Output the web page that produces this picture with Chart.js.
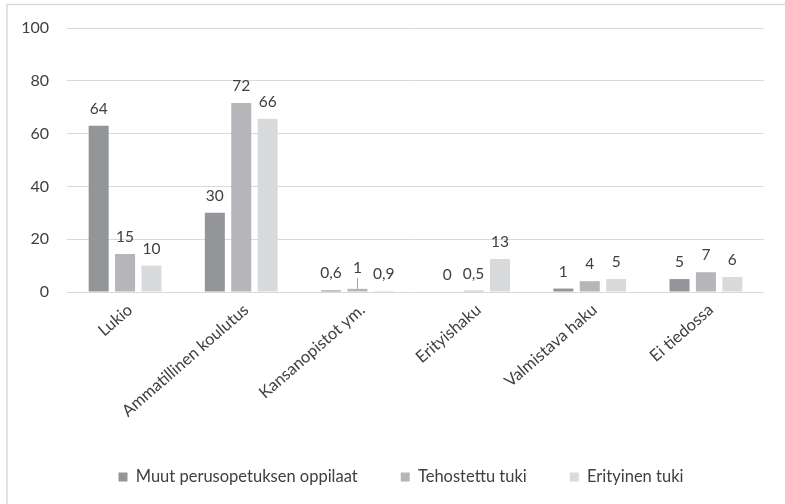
<!DOCTYPE html>
<html><head><meta charset="utf-8">
<script src="https://cdn.jsdelivr.net/npm/chart.js@4"></script>
<style>html,body{margin:0;padding:0;background:#fff}#wrap{width:785px;height:504px}</style>
</head><body><div id="wrap"><canvas id="c" width="785" height="504"></canvas></div>
<script>
const categories = ['Lukio','Ammatillinen koulutus','Kansanopistot ym.','Erityishaku','Valmistava haku','Ei tiedossa'];
const seriesNames = ['Muut perusopetuksen oppilaat','Tehostettu tuki','Erityinen tuki'];
const muutValues = [63, 30, 0.6, 0, 1.3, 4.9];
const tehoValues = [14.4, 71.6, 1.2, 0.5, 4.1, 7.5];
const eritValues = [10, 65.6, 0.4, 12.5, 4.9, 5.7];
const muutLabels = ['64','30','0,6','0','1','5'];
const tehoLabels = ['15','72','1','0,5','4','7'];
const eritLabels = ['10','66','0,9','13','5','6'];
const yTicks = [0,20,40,60,80,100];

const FONT = 'Lato, "Open Sans", sans-serif';
const TXT = '#404040';
const colors = ['#949598','#b5b6b9','#d9dadb'];
const valueLabels = [muutLabels, tehoLabels, eritLabels];

const frame = {
  id:'frame',
  beforeDraw(chart){
    const ctx = chart.ctx; ctx.save();
    ctx.fillStyle='#fff'; ctx.fillRect(0,0,chart.width,chart.height);
    ctx.strokeStyle='#d9d9d9'; ctx.lineWidth=1.5;
    ctx.beginPath();
    ctx.moveTo(7, chart.height); ctx.lineTo(7, 4.5); ctx.lineTo(chart.width, 4.5);
    ctx.stroke();
    ctx.restore();
  }
};
const dataLabels = {
  id:'dataLabels',
  afterDatasetsDraw(chart){
    const ctx = chart.ctx; ctx.save();
    ctx.font = '15.5px ' + FONT; ctx.fillStyle = TXT;
    ctx.textAlign='center'; ctx.textBaseline='alphabetic';
    chart.data.datasets.forEach((ds,i)=>{
      chart.getDatasetMeta(i).data.forEach((bar,j)=>{
        const top = Math.min(bar.y, chart.chartArea.bottom);
        let gap = 12;
        if (i === 1 && j === 2) {
          gap = 16;
          ctx.save(); ctx.strokeStyle = '#a6a6a6'; ctx.lineWidth = 1;
          ctx.beginPath(); ctx.moveTo(Math.round(bar.x)+0.5, top); ctx.lineTo(Math.round(bar.x)+0.5, top - 11); ctx.stroke();
          ctx.restore();
        }
        ctx.fillText(valueLabels[i][j], bar.x, top - gap);
      });
    });
    ctx.restore();
  }
};

new Chart(document.getElementById('c'), {
  type:'bar',
  data:{
    labels: categories,
    datasets:[
      {label:seriesNames[0], data:muutValues, backgroundColor:colors[0]},
      {label:seriesNames[1], data:tehoValues, backgroundColor:colors[1]},
      {label:seriesNames[2], data:eritValues, backgroundColor:colors[2]}
    ]
  },
  options:{
    responsive:false, animation:false,
    layout:{padding:{top:28,left:20,right:3,bottom:8.75}},
    datasets:{bar:{categoryPercentage:0.682, barPercentage:0.757}},
    plugins:{
      legend:{position:'bottom',
        labels:{boxWidth:9, boxHeight:9, padding:43, color:TXT, font:{family:FONT,size:16.5}}},
      tooltip:{enabled:false}
    },
    scales:{
      x:{
        grid:{display:false, drawTicks:false},
        border:{display:false},
        ticks:{color:TXT, font:{family:FONT,size:16.5}, minRotation:41, maxRotation:41, padding:8, labelOffset:5},
        afterFit(s){ s.height = 133.75; }
      },
      y:{
        min:0, max:100,
        afterBuildTicks(s){ s.ticks = yTicks.map(v=>({value:v})); },
        grid:{color:'#d9d9d9', drawTicks:false},
        border:{display:false},
        ticks:{color:TXT, font:{family:FONT,size:16}, padding:18},
        afterFit(s){ s.width = 47; }
      },
      yRight:{
        position:'right', type:'linear', min:0, max:100,
        grid:{display:false, drawTicks:false},
        border:{display:false},
        ticks:{display:false},
        afterFit(s){ s.width = 18; }
      }
    }
  },
  plugins:[frame, dataLabels]
});
</script></body></html>
